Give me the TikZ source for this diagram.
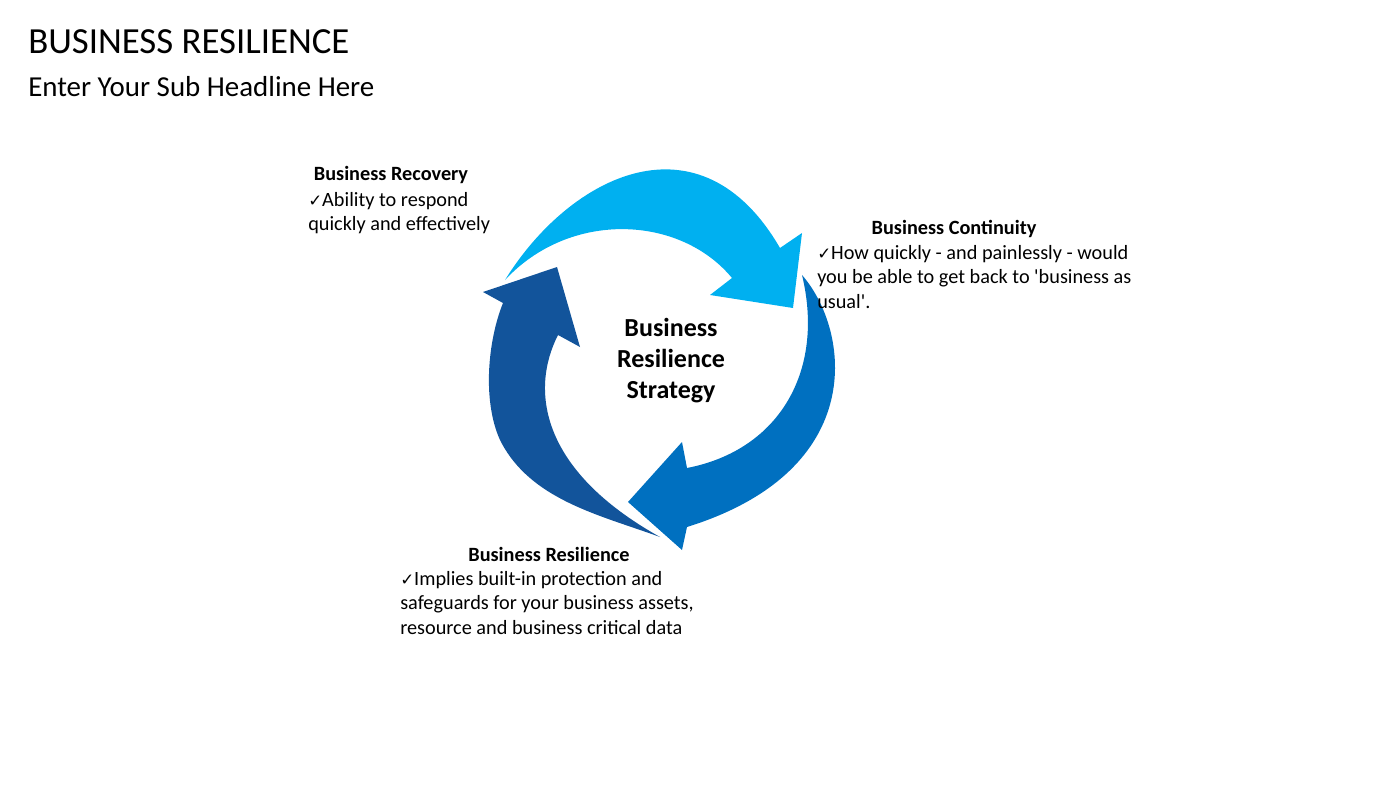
\documentclass[tikz,border=0pt]{standalone}
\usepackage{fontspec}
\setmainfont{Carlito}
\newfontfamily\symfont{DejaVu Sans}
\usetikzlibrary{positioning}

\definecolor{topblue}{RGB}{0,176,240}
\definecolor{midblue}{RGB}{0,112,192}
\definecolor{darkblue}{RGB}{18,84,155}

\newcommand{\tick}{{\symfont\fontsize{12.5}{12.5}\selectfont ✓}}

\tikzset{
  headtext/.style={font=\fontsize{15.2}{18.4}\selectfont\bfseries, inner sep=0pt},
  bodytext/.style={font=\fontsize{15.2}{18.4}\selectfont, inner sep=0pt, align=left},
  centertext/.style={font=\fontsize{19.5}{23.25}\selectfont\bfseries, inner sep=0pt, align=center},
}

\begin{document}
\begin{tikzpicture}[x=0.75pt,y=0.75pt,yscale=-1,xscale=1]
\path (0,0) rectangle (1400,788); %page size

%Curved Arrow (top)
\fill [topblue] (505,280) .. controls (570,175) and (700,110) .. (780,248) -- (802,233) -- (793,308) -- (710,295) -- (732,278) .. controls (680,215) and (570,210) .. (505,280) -- cycle ;
%Curved Arrow (right)
\fill [midblue] (802,275) .. controls (850,330) and (870,470) .. (687,527) -- (682,550) -- (628,502) -- (682,442) -- (687,468) .. controls (780,450) and (825,370) .. (802,275) -- cycle ;
%Curved Arrow (left)
\fill [darkblue] (660,537) .. controls (600,515) and (530,500) .. (500,440) .. controls (482,400) and (488,340) .. (503,303) -- (483,292) -- (557,267) -- (580,347) -- (558,335) .. controls (530,390) and (540,470) .. (660,537) -- cycle ;

% Text Node
\draw (28,54) node (title) [anchor=base west][inner sep=0pt] {\fontsize{27.6}{30}\selectfont BUSINESS RESILIENCE};
% Text Node
\draw (28,97) node (subtitle) [anchor=base west][inner sep=0pt] {\fontsize{21.7}{24}\selectfont Enter Your Sub Headline Here};
% Text Node
\draw (671,318) node (strategy) [anchor=north][centertext] {Business\\Resilience\\Strategy};

% Text Node
\draw (391,181) node (recovhead) [anchor=base][headtext] {Business Recovery};
% Text Node
\draw (308,192) node (recovbody) [anchor=north west][bodytext] {\tick Ability to respond\\quickly and effectively};

% Text Node
\draw (954,235) node (contihead) [anchor=base][headtext] {Business Continuity};
% Text Node
\draw (817,245) node (contibody) [anchor=north west][bodytext] {\tick How quickly - and painlessly - would\\you be able to get back to \textquotesingle business as\\usual\textquotesingle.};

% Text Node
\draw (549,561) node (resilhead) [anchor=base][headtext] {Business Resilience};
% Text Node
\draw (400,571) node (resilbody) [anchor=north west][bodytext] {\tick Implies built-in protection and\\safeguards for your business assets,\\resource and business critical data};

\end{tikzpicture}
\end{document}
